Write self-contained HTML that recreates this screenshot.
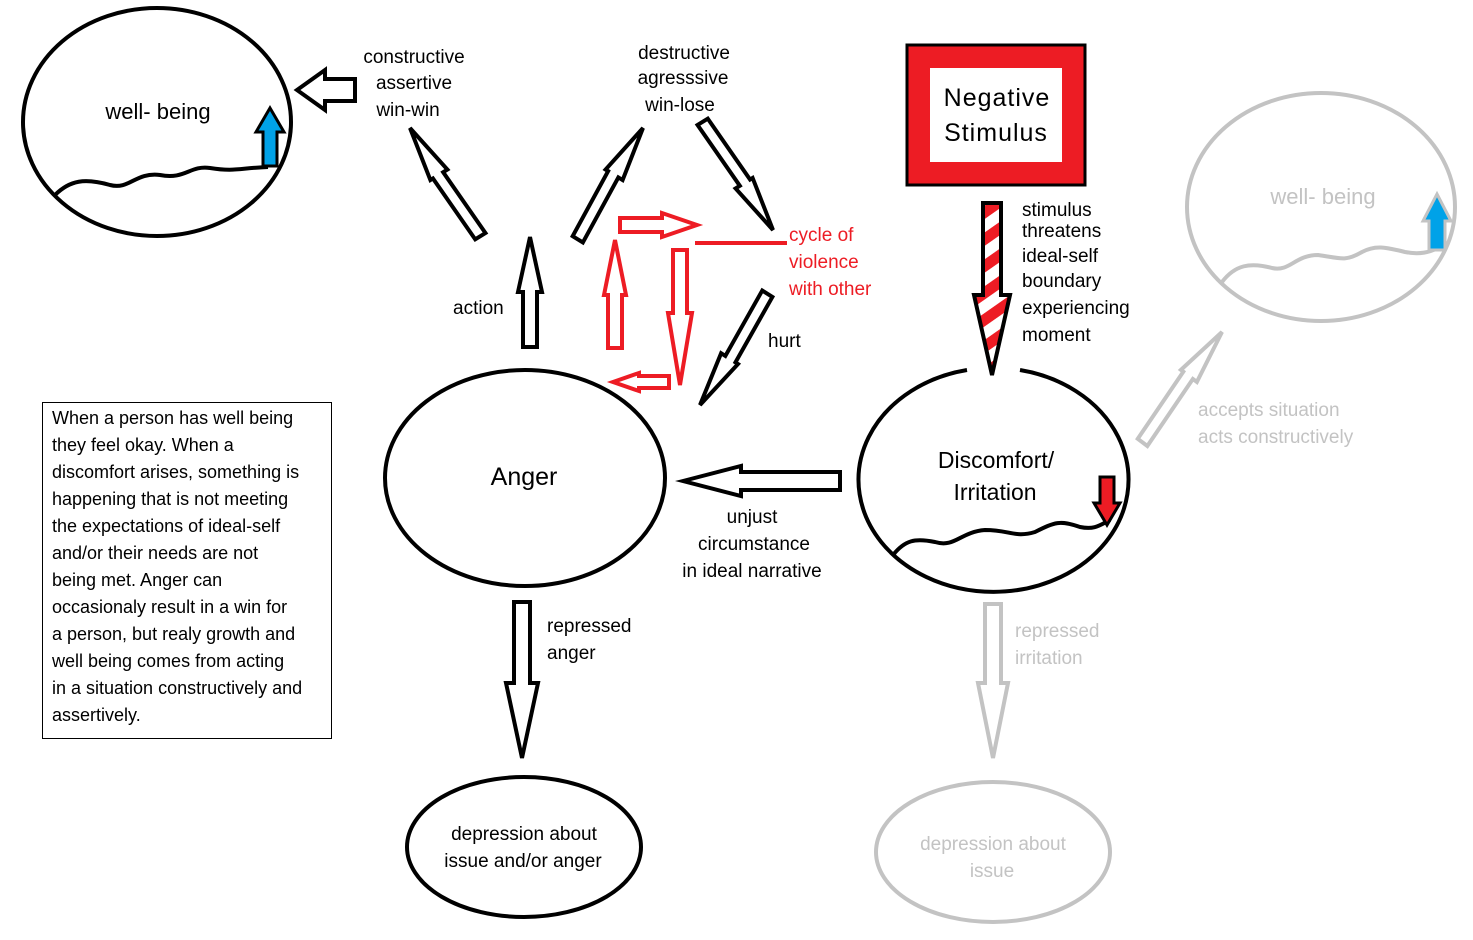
<!DOCTYPE html>
<html><head><meta charset="utf-8"><style>
html,body{margin:0;padding:0;background:#fff;}
svg{display:block;}
text{font-family:"Liberation Sans","Noto Sans CJK KR",sans-serif;}
</style></head><body>
<svg width="1473" height="940" viewBox="0 0 1473 940" xmlns="http://www.w3.org/2000/svg">
<defs>
<pattern id="stripe" width="22" height="22" patternUnits="userSpaceOnUse" patternTransform="rotate(-35)">
<rect width="22" height="11" fill="#ed1c24"/><rect y="11" width="22" height="11" fill="#fff"/>
</pattern>
</defs>

<!-- left well-being -->
<ellipse cx="157" cy="122" rx="134" ry="114" fill="none" stroke="#000" stroke-width="4"/>
<path d="M55,195 C70,180 85,178 110,185 C130,190 135,172 160,175 C185,180 190,165 210,168 C235,172 240,168 268,167" fill="none" stroke="#000" stroke-width="4"/>
<g transform="translate(270,108)"><polygon points="0,0 14,24 7,24 7,58 -7,58 -7,24 -14,24" fill="#00a2e8" stroke="#000" stroke-width="3"/></g>
<text x="158" y="119" font-size="22" text-anchor="middle">well- being</text>

<!-- arrow to well-being -->
<g transform="translate(297,90) rotate(-90)"><polygon points="0,0 20,28 11,28 11,58 -11,58 -11,28 -20,28" fill="#fff" stroke="#000" stroke-width="4"/></g>
<text font-size="19" text-anchor="middle"><tspan x="414" y="63">constructive</tspan><tspan x="414" y="89">assertive</tspan><tspan x="408" y="116">win-win</tspan></text>
<text font-size="19" text-anchor="middle"><tspan x="684" y="59">destructive</tspan><tspan x="683" y="84">agresssive</tspan><tspan x="680" y="111">win-lose</tspan></text>

<!-- diagonal black arrows -->
<g transform="translate(410,128) rotate(-31.7)"><polygon points="0,0 10,55 5,55 9,129 -3,129 -7,55 -10,55" fill="#fff" stroke="#000" stroke-width="4" stroke-linejoin="miter"/></g>
<g transform="translate(643,128) rotate(31.7)"><polygon points="0,0 10,55 5,55 9,129 -3,129 -7,55 -10,55" fill="#fff" stroke="#000" stroke-width="4"/></g>
<g transform="translate(773,230) rotate(148.3)"><polygon points="0,0 10,55 5,55 9,129 -3,129 -7,55 -10,55" fill="#fff" stroke="#000" stroke-width="4"/></g>
<g transform="translate(700,405) rotate(212.5)"><polygon points="0,0 10,55 5,55 9,130 -3,130 -7,55 -10,55" fill="#fff" stroke="#000" stroke-width="4"/></g>
<text x="768" y="347" font-size="19">hurt</text>

<!-- red cycle -->
<line x1="695" y1="243" x2="787" y2="243" stroke="#ed1c24" stroke-width="4"/>
<text font-size="19" fill="#ed1c24"><tspan x="789" y="241">cycle of</tspan><tspan x="789" y="268">violence</tspan><tspan x="789" y="295">with other</tspan></text>
<g fill="#fff" stroke="#ed1c24" stroke-width="4">
<g transform="translate(697,225) rotate(90)"><polygon points="0,0 12,35 7,35 7,77 -7,77 -7,35 -12,35"/></g>
<g transform="translate(615,240) rotate(0)"><polygon points="0,0 11,55 7,55 7,108 -7,108 -7,55 -11,55"/></g>
<g transform="translate(680,385) rotate(180)"><polygon points="0,0 12,72 7,72 7,135 -7,135 -7,72 -12,72"/></g>
<g transform="translate(613,382) rotate(-90)"><polygon points="0,0 9,26 6,26 6,56 -6,56 -6,26 -9,26"/></g>
</g>

<!-- action -->
<g transform="translate(530,237)"><polygon points="0,0 12,55 7,55 7,110 -7,110 -7,55 -12,55" fill="#fff" stroke="#000" stroke-width="4"/></g>
<text x="453" y="314" font-size="19">action</text>

<!-- Anger -->
<ellipse cx="525" cy="478" rx="140" ry="108" fill="none" stroke="#000" stroke-width="4"/>
<text x="524" y="485" font-size="25" text-anchor="middle">Anger</text>

<!-- unjust -->
<g transform="translate(683,481) rotate(-90)"><polygon points="0,0 15,58 9,58 9,157 -9,157 -9,58 -15,58" fill="#fff" stroke="#000" stroke-width="4"/></g>
<text font-size="19" text-anchor="middle"><tspan x="752" y="523">unjust</tspan><tspan x="754" y="550">circumstance</tspan><tspan x="752" y="577">in ideal narrative</tspan></text>

<!-- repressed anger -->
<g transform="translate(522,758) rotate(180)"><polygon points="0,0 16,75 8,75 8,156 -8,156 -8,75 -16,75" fill="#fff" stroke="#000" stroke-width="4"/></g>
<text font-size="19"><tspan x="547" y="632">repressed</tspan><tspan x="547" y="659">anger</tspan></text>
<ellipse cx="524" cy="847" rx="117" ry="70" fill="none" stroke="#000" stroke-width="4"/>
<text font-size="19" text-anchor="middle"><tspan x="524" y="840">depression about</tspan><tspan x="523" y="867">issue and/or anger</tspan></text>

<!-- text box -->
<rect x="42.5" y="402.5" width="289" height="336" fill="#fff" stroke="#000" stroke-width="1"/>
<text font-size="18" fill="#000">
<tspan x="52" y="424">When a person has well being</tspan>
<tspan x="52" y="451">they feel okay.  When a</tspan>
<tspan x="52" y="478">discomfort arises, something is</tspan>
<tspan x="52" y="505">happening that is not meeting</tspan>
<tspan x="52" y="532">the expectations of ideal-self</tspan>
<tspan x="52" y="559">and/or their needs are not</tspan>
<tspan x="52" y="586">being met.  Anger can</tspan>
<tspan x="52" y="613">occasionaly result in a win for</tspan>
<tspan x="52" y="640">a person, but realy growth and</tspan>
<tspan x="52" y="667">well being comes from acting</tspan>
<tspan x="52" y="694">in a situation constructively and</tspan>
<tspan x="52" y="721">assertively.</tspan>
</text>

<!-- Negative stimulus -->
<rect x="907" y="45" width="178" height="140" fill="#ed1c24" stroke="#000" stroke-width="3"/>
<rect x="930" y="68" width="132" height="94" fill="#fff"/>
<text font-size="25" text-anchor="middle" letter-spacing="1"><tspan x="997" y="106">Negative</tspan><tspan x="996" y="141">Stimulus</tspan></text>

<!-- striped arrow -->
<g transform="translate(992,375) rotate(180)"><polygon points="0,0 18,80 9,80 9,172 -9,172 -9,80 -18,80" fill="url(#stripe)" stroke="#000" stroke-width="4"/></g>
<text font-size="19"><tspan x="1022" y="216">stimulus</tspan><tspan x="1022" y="237">threatens</tspan><tspan x="1022" y="262">ideal-self</tspan><tspan x="1022" y="287">boundary</tspan><tspan x="1022" y="314">experiencing</tspan><tspan x="1022" y="341">moment</tspan></text>

<!-- Discomfort -->
<path d="M967,370 A135,112 0 1 0 1020,370" fill="none" stroke="#000" stroke-width="4"/>
<path d="M893,555 C905,540 915,538 935,542 C955,548 960,532 985,530 C1010,530 1015,538 1035,532 C1055,522 1060,520 1080,527 C1095,530 1100,525 1110,520" fill="none" stroke="#000" stroke-width="4"/>
<g transform="translate(1107,525) rotate(180)"><polygon points="0,0 13,22 7,22 7,48 -7,48 -7,22 -13,22" fill="#ed1c24" stroke="#000" stroke-width="3"/></g>
<text font-size="23" text-anchor="middle"><tspan x="996" y="468">Discomfort/</tspan><tspan x="995" y="500">Irritation</tspan></text>

<!-- gray parts -->
<ellipse cx="1321" cy="207" rx="134" ry="114" fill="none" stroke="#c3c3c3" stroke-width="4"/>
<path d="M1222,282 C1235,265 1250,262 1272,268 C1290,272 1295,255 1318,255 C1340,258 1345,262 1362,252 C1375,245 1385,247 1405,252 C1420,255 1430,252 1438,248" fill="none" stroke="#c3c3c3" stroke-width="4"/>
<g transform="translate(1437,194)"><polygon points="0,0 14,27 8,27 8,56 -8,56 -8,27 -14,27" fill="#00a2e8" stroke="#c3c3c3" stroke-width="3"/></g>
<text x="1323" y="204" font-size="22" text-anchor="middle" fill="#c3c3c3">well- being</text>
<g transform="translate(1222,332) rotate(37)"><polygon points="0,0 10,55 5,55 9,136 -3,136 -7,55 -10,55" fill="#fff" stroke="#c3c3c3" stroke-width="4"/></g>
<text font-size="19" fill="#c3c3c3"><tspan x="1198" y="416">accepts situation</tspan><tspan x="1198" y="443">acts constructively</tspan></text>
<g transform="translate(993,758) rotate(180)"><polygon points="0,0 15,75 8,75 8,154 -8,154 -8,75 -15,75" fill="#fff" stroke="#c3c3c3" stroke-width="4"/></g>
<text font-size="19" fill="#c3c3c3"><tspan x="1015" y="637">repressed</tspan><tspan x="1015" y="664">irritation</tspan></text>
<ellipse cx="993" cy="852" rx="117" ry="70" fill="none" stroke="#c3c3c3" stroke-width="4"/>
<text font-size="19" text-anchor="middle" fill="#c3c3c3"><tspan x="993" y="850">depression about</tspan><tspan x="992" y="877">issue</tspan></text>
</svg>
</body></html>
